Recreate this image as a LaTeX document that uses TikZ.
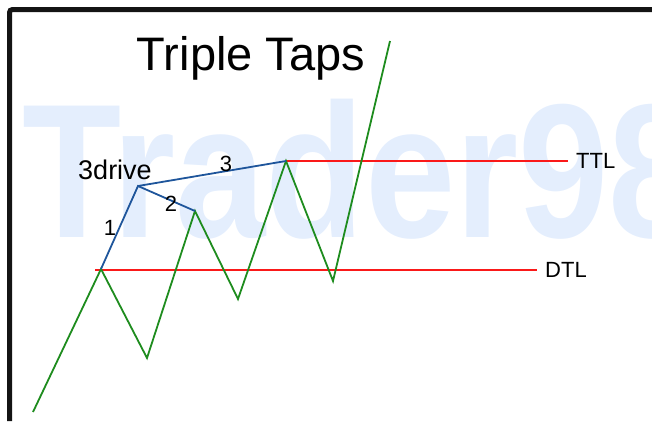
\documentclass[tikz,border=0pt]{standalone}
\usepackage{fontspec}
\setmainfont{Liberation Sans}
\usetikzlibrary{positioning,calc}
\definecolor{wmblue}{RGB}{228,238,253}
\definecolor{movegreen}{RGB}{30,140,30}
\definecolor{driveblue}{RGB}{30,85,155}
\definecolor{levelred}{RGB}{250,25,25}
\tikzset{
    % Frame - thick black edge at left and top
    frame/.style={
        draw=black!92,
        line width=5pt,
        rounded corners=3pt
    },
    % Price swing - green zigzag
    swing/.style={
        draw=movegreen,
        line width=1.8pt,
        line join=miter
    },
    % Drive legs - blue tones
    drive/.style={
        draw=driveblue,
        line width=1.8pt
    },
    % Trend line levels - red
    level/.style={
        draw=levelred,
        line width=2pt
    },
    % Labels
    leglabel/.style={
        font=\fontsize{22}{22}\selectfont,
        inner sep=0pt
    },
    levellabel/.style={
        font=\fontsize{22}{22}\selectfont,
        inner sep=0pt,
        anchor=west
    },
    % Watermark text
    watermark/.style={
        font=\fontsize{191}{191}\selectfont\bfseries,
        text=wmblue,
        inner sep=0pt,
        anchor=base west,
        xscale=0.85,
        transform shape
    }
}

\begin{document}
\begin{tikzpicture}[x=1pt,y=-1pt]

    \useasboundingbox (0,0) rectangle (652,421);

    % ========== WATERMARK ==========
    \begin{scope}
        \clip (0,0) rectangle (652,421);
        \node[watermark] (wm) at (22,237) {Trader98};
    \end{scope}

    % ========== FRAME ==========
    \coordinate (fbottom) at (9.5,421);
    \coordinate (fcorner) at (9.5,9.5);
    \coordinate (fright) at (652,9.5);
    \draw[frame] (fbottom) -- (fcorner) -- (fright);

    % ========== TITLE ==========
    \node[font=\fontsize{47}{47}\selectfont, inner sep=0pt] (title) at (251,58) {Triple Taps};

    % ========== SWING POINTS ==========
    \coordinate (g0) at (33,412);
    \coordinate (g1) at (101,269);
    \coordinate (g2) at (147,358);
    \coordinate (g3) at (195,211);
    \coordinate (g4) at (238,299);
    \coordinate (g5) at (286,161);
    \coordinate (g6) at (333,281);
    \coordinate (g7) at (390,41);
    \coordinate (top) at (138,186);

    % ========== LEVELS ==========
    \coordinate (dtlstart) at (95,270);
    \coordinate (dtlend) at (537,270);
    \coordinate (ttlend) at (568,161);
    \draw[level] (dtlstart) -- (dtlend);
    \draw[level] (g5) -- (ttlend);
    \node[levellabel, right=8pt of ttlend] (ttl) {TTL};
    \node[levellabel, right=8pt of dtlend] (dtl) {DTL};

    % ========== SWINGS ==========
    \draw[swing] (g0) -- (g1) -- (g2) -- (g3) -- (g4) -- (g5) -- (g6) -- (g7);

    % ========== DRIVES ==========
    \draw[drive] (g1) -- (top) -- (g3);
    \draw[drive] (top) -- (g5);

    % Drive labels
    \node[font=\fontsize{27}{27}\selectfont, inner sep=0pt] (drivelbl) at (115,170) {3drive};
    \node[leglabel] (leg1) at (110,228) {1};
    \node[leglabel] (leg2) at (171,204) {2};
    \node[leglabel] (leg3) at (226,164) {3};

\end{tikzpicture}
\end{document}
